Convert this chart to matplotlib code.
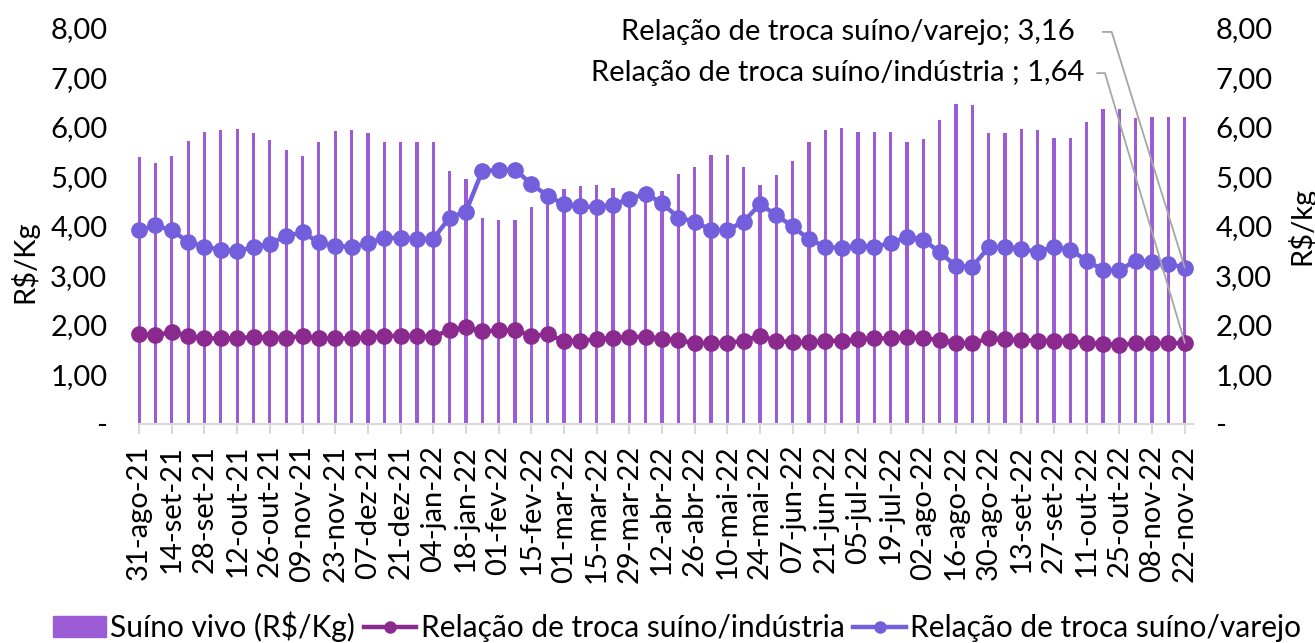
import matplotlib
matplotlib.use("Agg")
import matplotlib.pyplot as plt
from matplotlib.ticker import FuncFormatter
from matplotlib.lines import Line2D
from matplotlib.patches import Patch

plt.rcParams['font.family'] = ['Lato', 'DejaVu Sans']

# weekly series, 31-ago-21 .. 22-nov-22
suino_vivo = [5.40, 5.28, 5.42, 5.72, 5.90, 5.94, 5.95, 5.87, 5.74, 5.54,
              5.42, 5.70, 5.91, 5.94, 5.87, 5.69, 5.69, 5.69, 5.69, 5.12,
              4.94, 4.17, 4.13, 4.13, 4.38, 4.55, 4.75, 4.81, 4.83, 4.76,
              4.58, 4.65, 4.70, 5.06, 5.20, 5.43, 5.43, 5.20, 4.82, 5.02,
              5.32, 5.70, 5.93, 5.97, 5.89, 5.89, 5.89, 5.69, 5.75, 6.14,
              6.46, 6.44, 5.88, 5.88, 5.95, 5.93, 5.77, 5.78, 6.11, 6.36,
              6.37, 6.18, 6.20, 6.21, 6.21]

troca_industria = [1.81, 1.80, 1.85, 1.78, 1.73, 1.73, 1.73, 1.76, 1.74, 1.74,
                   1.78, 1.73, 1.73, 1.73, 1.75, 1.78, 1.78, 1.78, 1.76, 1.90,
                   1.95, 1.87, 1.89, 1.90, 1.78, 1.81, 1.68, 1.68, 1.71, 1.74,
                   1.76, 1.76, 1.72, 1.70, 1.63, 1.64, 1.64, 1.68, 1.78, 1.68,
                   1.65, 1.65, 1.68, 1.68, 1.71, 1.73, 1.73, 1.76, 1.73, 1.70,
                   1.64, 1.63, 1.73, 1.71, 1.70, 1.68, 1.68, 1.68, 1.63, 1.62,
                   1.60, 1.63, 1.63, 1.63, 1.64]

troca_varejo = [3.91, 4.01, 3.91, 3.68, 3.58, 3.52, 3.49, 3.57, 3.64, 3.80,
                3.87, 3.67, 3.60, 3.58, 3.65, 3.76, 3.76, 3.74, 3.74, 4.17,
                4.29, 5.11, 5.13, 5.14, 4.85, 4.61, 4.44, 4.40, 4.38, 4.43,
                4.55, 4.65, 4.46, 4.17, 4.09, 3.92, 3.92, 4.09, 4.44, 4.22,
                3.99, 3.73, 3.58, 3.55, 3.60, 3.58, 3.65, 3.78, 3.72, 3.47,
                3.19, 3.18, 3.57, 3.58, 3.53, 3.48, 3.58, 3.52, 3.30, 3.11,
                3.11, 3.30, 3.28, 3.23, 3.16]

# one label every two weeks
tick_labels = ["31-ago-21", "14-set-21", "28-set-21", "12-out-21", "26-out-21",
               "09-nov-21", "23-nov-21", "07-dez-21", "21-dez-21", "04-jan-22",
               "18-jan-22", "01-fev-22", "15-fev-22", "01-mar-22", "15-mar-22",
               "29-mar-22", "12-abr-22", "26-abr-22", "10-mai-22", "24-mai-22",
               "07-jun-22", "21-jun-22", "05-jul-22", "19-jul-22", "02-ago-22",
               "16-ago-22", "30-ago-22", "13-set-22", "27-set-22", "11-out-22",
               "25-out-22", "08-nov-22", "22-nov-22"]

c_bar = "#9B5CD6"
c_ind = "#8B2A8E"
c_var = "#735FDB"
c_grey = "#A6A6A6"
fs = 21

x = list(range(len(suino_vivo)))

fig = plt.figure(figsize=(13.15, 6.43), dpi=100)
ax = fig.add_axes([0.0996, 0.3406, 0.8076, 0.6159])

ax.bar(x, suino_vivo, width=0.2, color=c_bar, zorder=2)
ax.plot(x, troca_industria, color=c_ind, lw=3.2, marker="o", ms=11, zorder=3)
ax.plot(x, troca_varejo, color=c_var, lw=3.2, marker="o", ms=11, zorder=3)

ax.set_xlim(-0.5, len(x) - 0.5)
ax.set_ylim(0, 8)
ax.set_yticks(range(0, 9))

def fmt(v, pos):
    if v == 0:
        return "-"
    return "{:.2f}".format(v).replace(".", ",")

ax.yaxis.set_major_formatter(FuncFormatter(fmt))
ax.tick_params(axis="y", length=0, pad=17, labelsize=fs)
ax.set_xticks(x[::2])
ax.set_xticklabels(tick_labels, rotation=90, fontsize=fs)
ax.tick_params(axis="x", length=7, width=1.5, color="#D9D9D9", pad=8)

for s in ["top", "right", "left"]:
    ax.spines[s].set_visible(False)
ax.spines["bottom"].set_color("#D9D9D9")
ax.spines["bottom"].set_linewidth(1.5)
ax.spines["bottom"].set_bounds(0, len(x) - 0.5)

ax.set_ylabel("R$/Kg", fontsize=fs)
ax.yaxis.set_label_coords(-0.087, 0.41)

ax2 = ax.twinx()
ax2.set_ylim(ax.get_ylim())
ax2.set_yticks(range(0, 9))
ax2.yaxis.set_major_formatter(FuncFormatter(fmt))
ax2.tick_params(axis="y", length=0, pad=16, labelsize=fs)
for s in ax2.spines.values():
    s.set_visible(False)
ax2.set_ylabel("R$/kg", fontsize=fs)
ax2.yaxis.set_label_coords(1.088, 0.5)

# data labels for the last point, with leader lines
last = len(x) - 1
ax.text(0.889, 0.99, "Relação de troca suíno/varejo; " + fmt(troca_varejo[-1], 0),
        transform=ax.transAxes, ha="right", va="center", fontsize=fs, zorder=5)
ax.text(0.898, 0.886, "Relação de troca suíno/indústria ; " + fmt(troca_industria[-1], 0),
        transform=ax.transAxes, ha="right", va="center", fontsize=fs, zorder=5)
ax.annotate("", xy=(last, troca_varejo[-1]), xycoords="data",
            xytext=(0.915, 0.99), textcoords="axes fraction",
            arrowprops=dict(arrowstyle="-", color=c_grey, lw=1.3,
                            shrinkA=0, shrinkB=0,
                            connectionstyle="arc,angleA=0,angleB=0,armA=9,armB=0,rad=0"),
            zorder=5)
ax.annotate("", xy=(last, troca_industria[-1]), xycoords="data",
            xytext=(0.9096, 0.886), textcoords="axes fraction",
            arrowprops=dict(arrowstyle="-", color=c_grey, lw=1.3,
                            shrinkA=0, shrinkB=0,
                            connectionstyle="arc,angleA=0,angleB=0,armA=8,armB=0,rad=0"),
            zorder=5)

handles = [Patch(color=c_bar),
           Line2D([], [], color=c_ind, lw=3.2, marker="o", ms=8),
           Line2D([], [], color=c_var, lw=3.2, marker="o", ms=8)]
labels = ["Suíno vivo (R$/Kg)", "Relação de troca suíno/indústria",
          "Relação de troca suíno/varejo"]
fig.legend(handles, labels, loc="center", bbox_to_anchor=(0.515, 0.025),
           ncol=3, frameon=False, fontsize=21.5, handlelength=1.75,
           handletextpad=0.15, columnspacing=0.3)

fig.savefig("out.png", dpi=100)
